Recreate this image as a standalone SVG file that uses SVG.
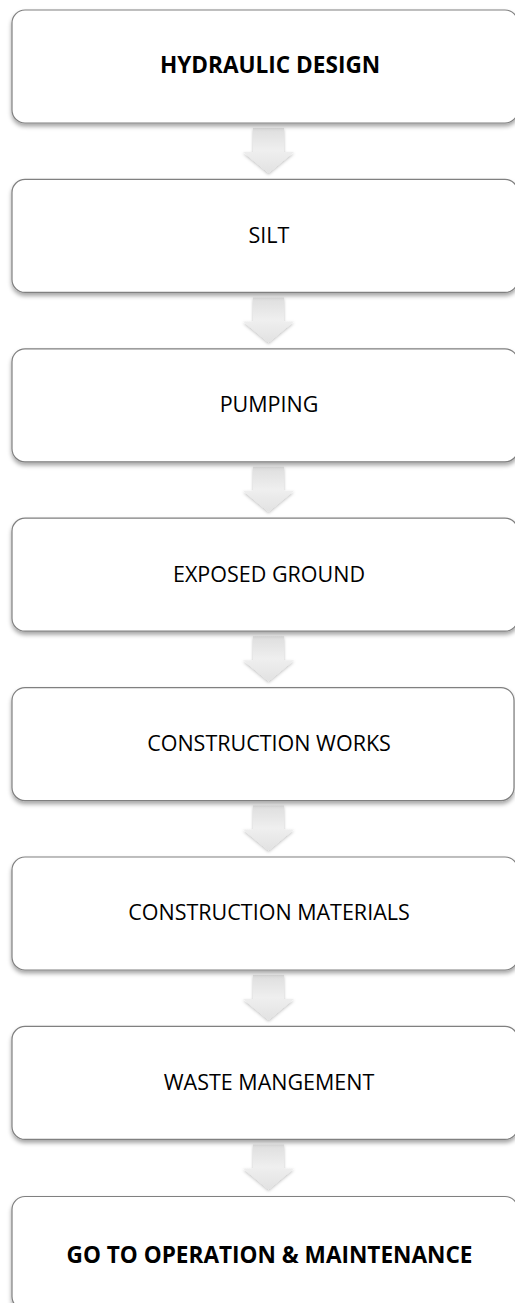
<svg xmlns="http://www.w3.org/2000/svg" width="515" height="1303" viewBox="0 0 515 1303">
<style>
.box{fill:#fff;stroke:#808080;stroke-width:1.2}
.t{font-family:"Open Sans","Liberation Sans",sans-serif;font-size:21.5px;fill:#000;text-anchor:middle}
.b{font-weight:bold;font-size:22.6px}
.arr{fill:url(#ag)}
</style>
<defs>
<filter id="sh" x="-5%" y="-10%" width="110%" height="130%">
<feDropShadow dx="0" dy="3" stdDeviation="2" flood-color="#000" flood-opacity="0.35"/>
</filter>
<filter id="ash" x="-30%" y="-30%" width="160%" height="160%">
<feDropShadow dx="0" dy="1.5" stdDeviation="1.5" flood-color="#000" flood-opacity="0.25"/>
</filter>
<linearGradient id="ag" x1="0" y1="0" x2="0" y2="1">
<stop offset="0" stop-color="#dedede"/>
<stop offset="0.5" stop-color="#efefef"/>
<stop offset="1" stop-color="#e2e2e2"/>
</linearGradient>
<path id="arrow" d="M253,0 H284 V24 H294 L268.5,45 L243,24 H253 Z"/>
</defs>
<g id="connectors">
<use href="#arrow" class="arr" filter="url(#ash)" transform="translate(0,128)"/>
<use href="#arrow" class="arr" filter="url(#ash)" transform="translate(0,297.4)"/>
<use href="#arrow" class="arr" filter="url(#ash)" transform="translate(0,466.8)"/>
<use href="#arrow" class="arr" filter="url(#ash)" transform="translate(0,636.2)"/>
<use href="#arrow" class="arr" filter="url(#ash)" transform="translate(0,805.6)"/>
<use href="#arrow" class="arr" filter="url(#ash)" transform="translate(0,975)"/>
<use href="#arrow" class="arr" filter="url(#ash)" transform="translate(0,1144.4)"/>
</g>
<g id="n1"><rect class="box" filter="url(#sh)" x="12" y="10" width="506" height="113" rx="13"/><text class="t b" x="270" y="73.3">HYDRAULIC DESIGN</text></g>
<g id="n2"><rect class="box" filter="url(#sh)" x="12" y="179.4" width="506" height="113" rx="13"/><text class="t" x="269" y="242.7">SILT</text></g>
<g id="n3"><rect class="box" filter="url(#sh)" x="12" y="348.8" width="506" height="113" rx="13"/><text class="t" x="269" y="412.1">PUMPING</text></g>
<g id="n4"><rect class="box" filter="url(#sh)" x="12" y="518.2" width="506" height="113" rx="13"/><text class="t" x="269" y="581.5">EXPOSED GROUND</text></g>
<g id="n5"><rect class="box" filter="url(#sh)" x="12" y="687.6" width="502" height="113" rx="13"/><text class="t" x="269" y="750.9">CONSTRUCTION WORKS</text></g>
<g id="n6"><rect class="box" filter="url(#sh)" x="12" y="857" width="506" height="113" rx="13"/><text class="t" x="269" y="920.3">CONSTRUCTION MATERIALS</text></g>
<g id="n7"><rect class="box" filter="url(#sh)" x="12" y="1026.4" width="506" height="113" rx="13"/><text class="t" x="269" y="1089.7">WASTE MANGEMENT</text></g>
<g id="n8"><rect class="box" filter="url(#sh)" x="12" y="1196.5" width="506" height="113" rx="13"/><text class="t b" x="269.5" y="1263">GO TO OPERATION &amp; MAINTENANCE</text></g>
</svg>
